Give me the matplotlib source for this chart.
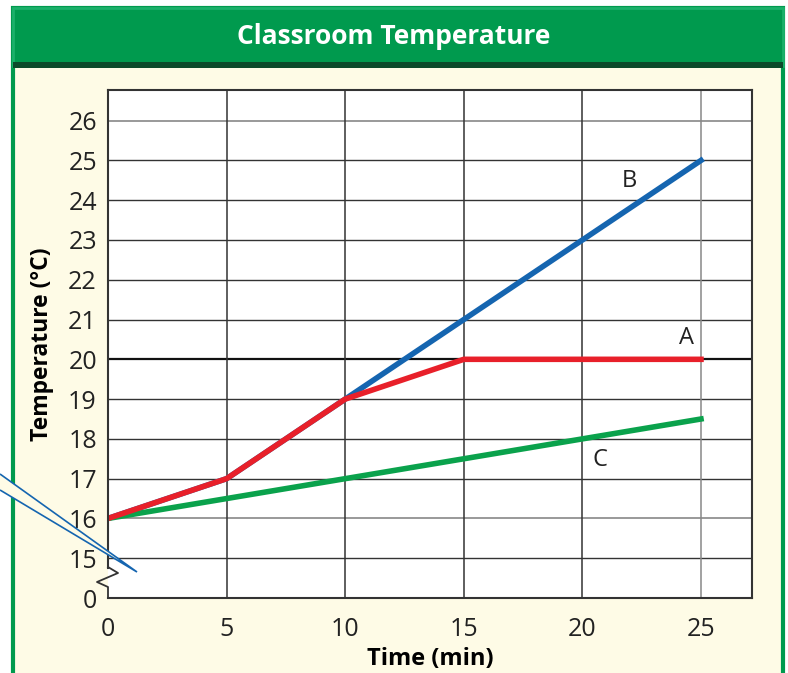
import numpy as np
import matplotlib.pyplot as plt
from matplotlib.patches import Rectangle, Polygon
from matplotlib.lines import Line2D

# data
time_min = [0, 5, 10, 15, 20, 25]
temp_a = [16, 17, 19, 20, 20, 20]
temp_b = [16, 17, 19, 21, 23, 25]
temp_c = [16, 16.5, 17, 17.5, 18, 18.5]
y_ticks = [14, 15, 16, 17, 18, 19, 20, 21, 22, 23, 24, 25, 26]
y_labels = ['0', '15', '16', '17', '18', '19', '20', '21', '22', '23', '24', '25', '26']
x_ticks = [0, 5, 10, 15, 20, 25]

W, H = 788, 673
bg = '#fefbe6'
green = '#009a4e'
font = 'Open Sans'

fig = plt.figure(figsize=(W / 100, H / 100), dpi=100)
fig.patch.set_facecolor('white')

def px(x, y):
    return x / W, 1 - y / H

# panel and header
fig.patches.append(Rectangle(px(13, 700), 770 / W, 692 / H, transform=fig.transFigure,
                             facecolor=bg, edgecolor=green, lw=3, zorder=-3))
fig.patches.append(Rectangle(px(13, 66), 770 / W, 58 / H, transform=fig.transFigure,
                             facecolor=green, edgecolor='#1bb06a', lw=2, zorder=-2))
fig.patches.append(Rectangle(px(13, 68), 770 / W, 6 / H, transform=fig.transFigure,
                             facecolor='#0b4a2a', edgecolor='none', zorder=-2))
fig.text(394 / W, 1 - 37 / H, 'Classroom Temperature', color='white', fontsize=19,
         fontweight='bold', ha='center', va='center', family=font)

ax = fig.add_axes([108 / W, 1 - 598 / H, 644 / W, 508 / H])
ax.set_facecolor('white')
ax.set_xlim(0, 27.15)
ax.set_ylim(14, 26.77)

# grid
for y in range(15, 27):
    if y == 20:
        ax.axhline(y, color='#111111', lw=1.6, zorder=1)
    elif y in (16, 26):
        ax.axhline(y, color='#888888', lw=1.2, zorder=1)
    else:
        ax.axhline(y, color='#333333', lw=1, zorder=1)
for x in x_ticks[1:]:
    ax.axvline(x, color='#888888' if x == 25 else '#333333', lw=1.1, zorder=1)

ax.plot(time_min, temp_b, color='#1565b0', lw=4, zorder=3)
ax.plot(time_min, temp_c, color='#0aa24c', lw=4, zorder=3)
ax.plot(time_min, temp_a, color='#e8202a', lw=4, zorder=4)

ax.text(21.96, 24.48, 'B', fontsize=17, ha='center', va='center', color='#222222', family=font)
ax.text(24.37, 20.53, 'A', fontsize=17, ha='center', va='center', color='#222222', family=font)
ax.text(20.74, 17.46, 'C', fontsize=17, ha='center', va='center', color='#222222', family=font)

ax.set_yticks(y_ticks)
ax.set_yticklabels(y_labels)
ax.set_xticks(x_ticks)
ax.tick_params(length=0, labelsize=18, colors='#222222', pad=8)
ax.tick_params(axis='x', pad=14)
for lab in ax.get_xticklabels() + ax.get_yticklabels():
    lab.set_family(font)

for s in ['top', 'right', 'bottom']:
    ax.spines[s].set_color('#333333')
    ax.spines[s].set_linewidth(1.5)
ax.spines['left'].set_visible(False)

# left axis with break
ax.plot([0, 0], [14.75, 26.77], color='#333333', lw=1.5, clip_on=False, zorder=5)
fig.add_artist(Line2D([108 / W, 118 / W, 97 / W, 108 / W, 108 / W],
                      [1 - 567 / H, 1 - 573 / H, 1 - 582 / H, 1 - 587 / H, 1 - 598 / H],
                      color='#333333', lw=1.3, transform=fig.transFigure, zorder=6))

ax.set_xlabel('Time (min)', fontsize=17, fontweight='bold', family=font, labelpad=3)
ax.set_ylabel('Temperature (°C)', fontsize=16.5, fontweight='bold', family=font, labelpad=10)

# callout pointer
pts = [px(0, 474), px(137, 572), px(0, 490)]
fig.patches.append(Polygon(pts, closed=False, transform=fig.transFigure, facecolor=bg,
                           edgecolor='#1565b0', lw=1.2, zorder=10))

fig.savefig('out.png', dpi=100, facecolor=fig.get_facecolor())
